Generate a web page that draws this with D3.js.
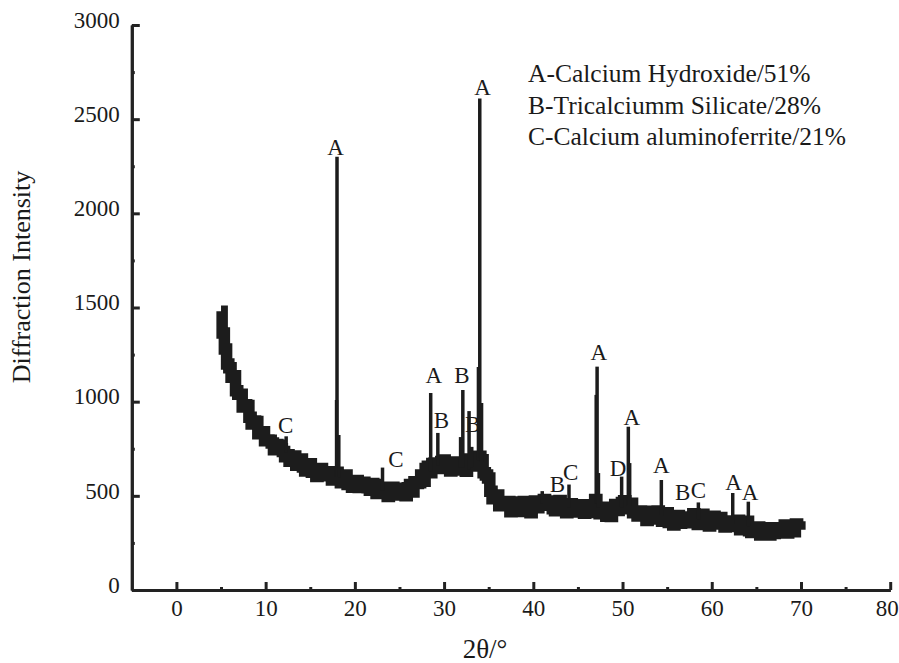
<!DOCTYPE html>
<html>
<head>
<meta charset="utf-8">
<script src="https://cdn.jsdelivr.net/npm/d3@7"></script>
<style>
  body { margin: 0; background: #fff; }
  svg { display: block; font-family: "Liberation Serif", "Times New Roman", serif; }
</style>
</head>
<body>
<svg id="chart"></svg>
<script>
// background trace, sampled every 0.25 deg starting at 5 deg
const bgStart = 5;
const bgStep = 0.25;
const bgValues = [
  1480, 1365, 1280, 1200,  1180, 1130, 1138, 1058,  1040, 1040, 972, 983,
  980, 917, 882, 898,  895, 830, 835, 840,
  792, 797, 795, 780,  745, 773, 768, 750,  735, 708, 718, 684,
  695, 712, 662, 688,  695, 653, 632, 662,
  670, 625, 635, 602,  640, 645, 607, 628,  615, 628, 584, 613,
  625, 585, 570, 600,  610, 560, 575, 545,
  580, 582, 544, 565,  572, 551, 543, 530,  565, 560, 512, 543,
  545, 527, 540, 497,  537, 545, 504, 528,
  532, 510, 540, 500,  543, 560, 520, 575,  565, 570, 610, 577,
  645, 657, 623, 672,  675, 660, 645, 682,
  690, 648, 665, 632,  672, 680, 637, 658,  675, 637, 630, 670,
  695, 658, 690, 665,  710, 692, 622, 611,
  595, 525, 485, 500,  505, 448, 448, 457,  458, 470, 415, 450,
  467, 427, 417, 451,  470, 418, 435, 410,
  457, 472, 437, 466,  470, 480, 450, 455,  473, 432, 421, 455,
  475, 422, 440, 410,  452, 458, 414, 436,
  448, 423, 453, 408,  430, 453, 412, 452,  480, 427, 405, 430,
  440, 392, 415, 390,  437, 454, 422, 454,
  465, 474, 432, 458,  460, 410, 420, 393,  420, 397, 400, 369,
  410, 418, 377, 403,  420, 377, 365, 395,
  410, 358, 375, 345,  387, 395, 354, 378,  380, 388, 357, 385,
  405, 361, 348, 385,  402, 351, 370, 340,
  382, 391, 350, 372,  385, 360, 335, 367,  365, 367, 337, 360,
  370, 320, 325, 348,  365, 315, 305, 330,
  327, 334, 292, 315,  320, 318, 292, 330,  300, 320, 303, 330,
  325, 345, 302, 340,  340, 309, 350, 335,
  320
];

// diffraction spikes: position, foot and top intensity
const peakTheta = [12.3, 17.95, 18.0, 18.2, 23.1, 28.5, 29.3, 31.85, 32.1, 32.8, 33.1,
  33.85, 34.0, 34.2, 41.0, 44.0, 47.05, 47.15, 47.3, 49.9, 50.65, 50.8, 54.35, 58.5, 62.35, 64.1];
const peakBase = [730, 600, 600, 595, 528, 630, 660, 650, 650, 640, 650,
  690, 700, 680, 460, 440, 460, 460, 440, 440, 450, 450, 395, 375, 355, 338];
const peakTop = [816, 1009, 2300, 823, 650, 1046, 834, 812, 1062, 950, 760,
  1184, 2610, 993, 525, 560, 1036, 1186, 621, 602, 867, 674, 584, 465, 515, 469];

// phase labels above the peaks
const labelText = ['C', 'A', 'C', 'A', 'B', 'B', 'B', 'A', 'B', 'C', 'A', 'D', 'A', 'A', 'B', 'C', 'A', 'A'];
const labelTheta = [12.25, 17.85, 24.6, 28.85, 29.7, 32.0, 33.2, 34.3, 42.7, 44.2, 47.35, 49.5, 51.05, 54.35, 56.75, 58.5, 62.45, 64.3];
const labelValue = [834, 2310, 653, 1099, 860, 1099, 839, 2629, 520, 584, 1221, 605, 876, 621, 478, 489, 531, 478];

const legendLines = ['A-Calcium Hydroxide/51%', 'B-Tricalciumm Silicate/28%', 'C-Calcium aluminoferrite/21%'];

const xMajor = [0, 10, 20, 30, 40, 50, 60, 70, 80];
const xMinor = [5, 15, 25, 35, 45, 55, 65, 75];
const yMajor = [0, 500, 1000, 1500, 2000, 2500, 3000];
const yMinor = [250, 750, 1250, 1750, 2250, 2750];

const width = 899;
const height = 663;
const ink = '#1c1c1c';
const serif = '"Liberation Serif", "Times New Roman", serif';

const svg = d3.select('#chart')
  .attr('width', width)
  .attr('height', height);

const x = d3.scaleLinear().domain([-5, 80]).range([131.8, 890.2]);
const y = d3.scaleLinear().domain([0, 3000]).range([590, 25]);

// noisy background band
const bg = bgValues.map((v, i) => [bgStart + i * bgStep, v]);
svg.append('path')
  .datum(bg)
  .attr('fill', 'none')
  .attr('stroke', ink)
  .attr('stroke-width', 11.5)
  .attr('stroke-linejoin', 'miter')
  .attr('d', d3.line().curve(d3.curveStep).x(d => x(d[0])).y(d => y(d[1])));

// spikes
svg.append('g')
  .selectAll('line')
  .data(peakTheta)
  .enter()
  .append('line')
  .attr('x1', d => x(d))
  .attr('x2', d => x(d))
  .attr('y1', (d, i) => y(peakBase[i]))
  .attr('y2', (d, i) => y(peakTop[i]))
  .attr('stroke', ink)
  .attr('stroke-width', 3.5);

// axes
function styleAxis(g) {
  g.attr('color', '#222');
  g.select('.domain').attr('stroke-width', 3);
  g.selectAll('.tick line').attr('stroke-width', 3);
  g.selectAll('text').attr('font-size', 23).attr('font-family', serif).attr('fill', '#1a1a1a');
}

svg.append('g')
  .attr('transform', `translate(0,${y(0)})`)
  .call(d3.axisBottom(x).tickValues(xMinor).tickSizeInner(-3).tickSizeOuter(0).tickFormat(''))
  .call(styleAxis);

const xAxisG = svg.append('g')
  .attr('transform', `translate(0,${y(0)})`)
  .call(d3.axisBottom(x).tickValues(xMajor).tickSizeInner(-8).tickSizeOuter(0).tickPadding(10).tickFormat(d3.format('d')))
  .call(styleAxis);
// last label sits tight against the right edge
xAxisG.selectAll('.tick').filter(d => d === 80).select('text').attr('dx', -3.5);

svg.append('g')
  .attr('transform', `translate(${x(-5)},0)`)
  .call(d3.axisLeft(y).tickValues(yMinor).tickSizeInner(-3).tickSizeOuter(0).tickFormat(''))
  .call(styleAxis);

const yAxisG = svg.append('g')
  .attr('transform', `translate(${x(-5)},0)`)
  .call(d3.axisLeft(y).tickValues(yMajor).tickSizeInner(-8).tickSizeOuter(0).tickPadding(12).tickFormat(d3.format('d')))
  .call(styleAxis);
yAxisG.selectAll('text').attr('dy', '0.1em');

// peak labels
svg.append('g')
  .selectAll('text')
  .data(labelText)
  .enter()
  .append('text')
  .attr('x', (d, i) => x(labelTheta[i]))
  .attr('y', (d, i) => y(labelValue[i]))
  .attr('text-anchor', 'middle')
  .attr('font-size', 23)
  .attr('fill', '#1a1a1a')
  .text(d => d);

// legend
svg.append('g')
  .selectAll('text')
  .data(legendLines)
  .enter()
  .append('text')
  .attr('x', 528)
  .attr('y', (d, i) => 82 + i * 31.5)
  .attr('font-size', 25.5)
  .attr('fill', '#1a1a1a')
  .text(d => d);

// axis titles
svg.append('text')
  .attr('x', 485)
  .attr('y', 658)
  .attr('text-anchor', 'middle')
  .attr('font-size', 27)
  .attr('fill', '#1a1a1a')
  .text('2θ/°');

svg.append('text')
  .attr('transform', 'translate(30,277) rotate(-90)')
  .attr('text-anchor', 'middle')
  .attr('font-size', 26)
  .attr('fill', '#1a1a1a')
  .text('Diffraction Intensity');
</script>
</body>
</html>
